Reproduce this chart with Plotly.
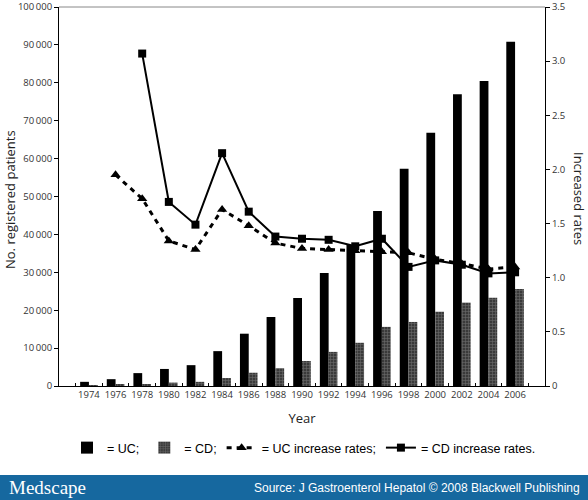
import plotly.graph_objects as go

years = ["1974", "1976", "1978", "1980", "1982", "1984", "1986", "1988", "1990",
         "1992", "1994", "1996", "1998", "2000", "2002", "2004", "2006"]
uc_counts = [1100, 1800, 3400, 4500, 5500, 9200, 13800, 18200, 23200,
             29800, 37200, 46200, 57300, 66800, 77000, 80500, 90800]
cd_counts = [100, 300, 500, 900, 1100, 2100, 3500, 4700, 6600,
             9000, 11400, 15600, 16900, 19600, 22000, 23300, 25600]
uc_rates = [None, 1.95, 1.73, 1.34, 1.26, 1.63, 1.48, 1.32, 1.27,
            1.26, 1.25, 1.24, 1.23, 1.17, 1.13, 1.08, 1.10]
cd_rates = [None, None, 3.07, 1.70, 1.49, 2.15, 1.61, 1.38, 1.36,
            1.35, 1.29, 1.36, 1.10, 1.16, 1.12, 1.04, 1.05]
left_ticks = [0, 10000, 20000, 30000, 40000, 50000, 60000, 70000, 80000, 90000, 100000]
left_ticktext = ["0", "10\u2006000", "20\u2006000", "30\u2006000", "40\u2006000", "50\u2006000",
                 "60\u2006000", "70\u2006000", "80\u2006000", "90\u2006000", "100\u2006000"]
right_ticks = [0, 0.5, 1.0, 1.5, 2.0, 2.5, 3.0, 3.5]
right_ticktext = ["0", "0.5", "1.0", "1.5", "2.0", "2.5", "3.0", "3.5"]

W, H = 588, 500
ML, MR, MT, MB = 59, 43, 7, 114
PW, PH = W - ML - MR, H - MT - MB


def px(x):
    return (x - ML) / PW


def py(y):
    return (H - MB - y) / PH


tick_font = dict(family="Open Sans, Liberation Sans, sans-serif", size=9.5, color="#333")
title_font = dict(family="Open Sans, sans-serif", size=13, color="#222")

fig = go.Figure()
fig.add_trace(go.Bar(x=years, y=uc_counts, name="= UC;", marker=dict(color="black", line=dict(width=0))))
fig.add_trace(go.Bar(x=years, y=cd_counts, name="= CD;",
                     marker=dict(color="#3a3a3a", line=dict(width=0),
                                 pattern=dict(shape="+", fgcolor="#9a9a9a", size=3, solidity=0.35))))
fig.add_trace(go.Scatter(x=years, y=uc_rates, name="= UC increase rates;", yaxis="y2",
                         mode="lines+markers", connectgaps=False,
                         line=dict(color="black", width=3, dash="5px,5px"),
                         marker=dict(symbol="triangle-up", size=9, color="black")))
fig.add_trace(go.Scatter(x=years, y=cd_rates, name="= CD increase rates.", yaxis="y2",
                         mode="lines+markers", connectgaps=False,
                         line=dict(color="black", width=2),
                         marker=dict(symbol="square", size=8, color="black")))

fig.update_layout(
    width=W, height=H,
    margin=dict(l=ML, r=MR, t=MT, b=MB, autoexpand=False),
    paper_bgcolor="white", plot_bgcolor="white",
    barmode="group", bargap=0.34, bargroupgap=0,
    showlegend=True,
    legend=dict(orientation="h", x=px(304), xanchor="center", y=py(448), yanchor="middle",
                font=dict(family="Liberation Sans, Arial, sans-serif", size=12.5, color="black"),
                itemwidth=30, traceorder="normal", bgcolor="rgba(0,0,0,0)"),
    xaxis=dict(type="category", showline=True, linecolor="black", linewidth=1,
               ticks="inside", ticklen=3, tickcolor="black", tickson="boundaries",
               tickfont=tick_font, tickangle=0, automargin=False, showgrid=False, zeroline=False,
               title=dict(text="Year", font=title_font, standoff=13)),
    yaxis=dict(range=[0, 100000], tickvals=left_ticks, ticktext=left_ticktext,
               showline=True, linecolor="black", linewidth=1, automargin=False,
               ticks="outside", ticklen=4, tickcolor="black", tickfont=tick_font,
               ticklabeloverflow="allow", showgrid=False, zeroline=False),
    yaxis2=dict(range=[0, 3.5], tickvals=right_ticks, ticktext=right_ticktext,
                overlaying="y", side="right", automargin=False,
                showline=True, linecolor="black", linewidth=1,
                ticks="outside", ticklen=4, tickcolor="black", tickfont=tick_font,
                ticklabeloverflow="allow", showgrid=False, zeroline=False),
)

fig.add_annotation(text="No. registered patients", textangle=-90, xref="paper", yref="paper",
                   x=px(10), y=py(200), xanchor="center", yanchor="middle",
                   showarrow=False, font=title_font)
fig.add_annotation(text="Increased rates", textangle=90, xref="paper", yref="paper",
                   x=px(579), y=py(198), xanchor="center", yanchor="middle",
                   showarrow=False, font=title_font)

# top border of plot area
fig.add_shape(type="line", xref="paper", yref="paper", x0=0, x1=1, y0=1, y1=1,
              line=dict(color="#888", width=1))

# footer banner
fig.add_shape(type="rect", xref="paper", yref="paper", x0=px(0), x1=px(W), y0=py(H), y1=py(475),
              fillcolor="#16689f", line=dict(width=0), layer="above")
fig.add_annotation(text="Medscape", xref="paper", yref="paper", x=px(7), y=py(487),
                   xanchor="left", yanchor="middle", showarrow=False,
                   font=dict(family="Liberation Serif, DejaVu Serif, serif", size=19, color="white"))
fig.add_annotation(text="Source: J Gastroenterol Hepatol © 2008 Blackwell Publishing", xref="paper", yref="paper",
                   x=px(582), y=py(488), xanchor="right", yanchor="middle", showarrow=False,
                   font=dict(family="Liberation Sans, Arial, sans-serif", size=12, color="white"))

fig.write_html("out.html", config={"displayModeBar": False},
               post_script="document.body.style.margin='0';document.body.style.padding='0';")
